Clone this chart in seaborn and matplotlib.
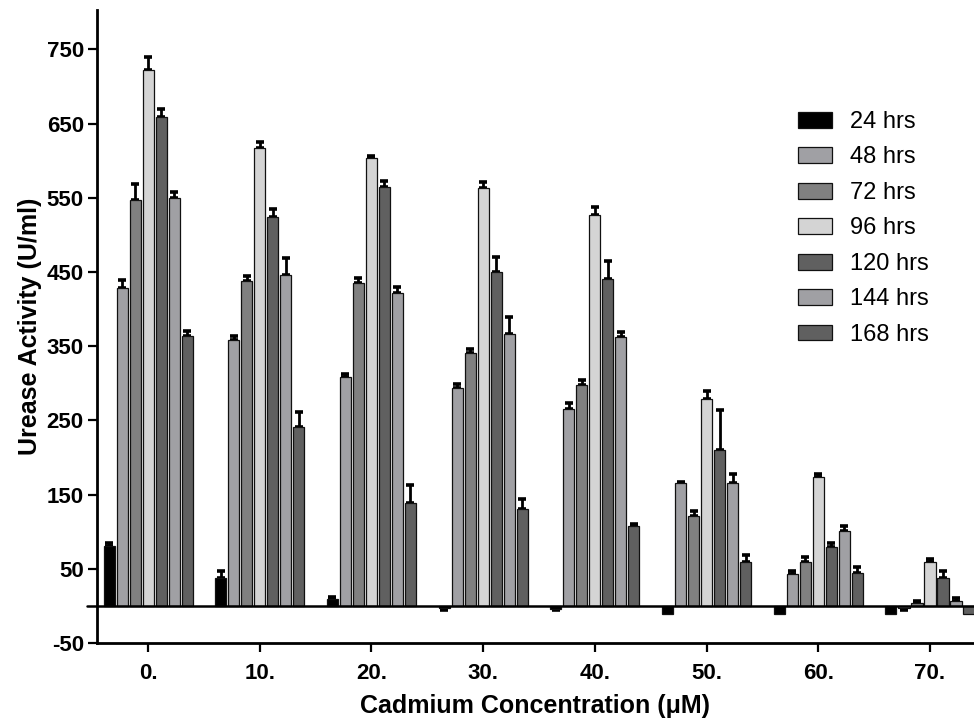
import numpy as np
import pandas as pd
import seaborn as sns
import matplotlib
matplotlib.use("Agg")
import matplotlib.pyplot as plt

# Cadmium concentrations (x categories)
concentrations = ["0.", "10.", "20.", "30.", "40.", "50.", "60.", "70."]
hours = ["24 hrs", "48 hrs", "72 hrs", "96 hrs", "120 hrs", "144 hrs", "168 hrs"]

# Urease activity (U/ml) per incubation time
act_24 = [81, 37, 9, -3, -4, -11, -11, -11]
act_48 = [429, 358, 309, 294, 266, 165, 43, -3]
act_72 = [547, 438, 435, 341, 297, 121, 59, 4]
act_96 = [722, 617, 603, 563, 527, 279, 174, 59]
act_120 = [659, 524, 565, 450, 440, 210, 80, 38]
act_144 = [550, 446, 421, 367, 362, 165, 101, 6]
act_168 = [364, 241, 138, 130, 108, 59, 45, -11]

# Standard errors
err_24 = [4, 10, 3, 2, 2, 0, 0, 0]
err_48 = [10, 6, 4, 5, 7, 2, 4, 2]
err_72 = [21, 6, 7, 5, 7, 7, 7, 2]
err_96 = [18, 8, 3, 8, 10, 11, 4, 4]
err_120 = [11, 11, 7, 20, 25, 54, 5, 9]
err_144 = [8, 23, 9, 22, 7, 13, 6, 5]
err_168 = [7, 20, 25, 14, 3, 9, 7, 0]

yticks = [-50, 50, 150, 250, 350, 450, 550, 650, 750]

series = [act_24, act_48, act_72, act_96, act_120, act_144, act_168]
errors = [err_24, err_48, err_72, err_96, err_120, err_144, err_168]
colors = ["#000000", "#a0a0a4", "#808080", "#d4d4d4", "#606060", "#a0a0a4", "#606060"]

rows = []
for h, vals, errs in zip(hours, series, errors):
    for c, v, e in zip(concentrations, vals, errs):
        rows.append({"conc": c, "time": h, "activity": v, "sem": e})
df = pd.DataFrame(rows)

sns.set_theme(style="ticks")
plt.rcParams["font.family"] = ["Liberation Sans", "DejaVu Sans"]
plt.rcParams.update({
    "text.color": "black",
    "axes.labelcolor": "black",
    "xtick.color": "black",
    "ytick.color": "black",
    "axes.edgecolor": "black",
})

fig = plt.figure(figsize=(9.74, 7.2), dpi=100)
ax = fig.add_axes([97 / 974, 77 / 720, 1 - 97 / 974, (643 - 10) / 720])

sns.barplot(
    data=df, x="conc", y="activity", hue="time",
    order=concentrations, hue_order=hours, palette=colors,
    width=0.815, gap=0.15, errorbar=None,
    edgecolor="#111111", linewidth=0.9, ax=ax, zorder=2,
)

# one-sided error bars in the direction of each bar
for cont, errs in zip(ax.containers, errors):
    for patch, e in zip(cont.patches, errs):
        if e <= 0:
            continue
        xc = patch.get_x() + patch.get_width() / 2
        h = patch.get_height()
        y = patch.get_y() + h
        if h >= 0:
            yerr = [[0], [e]]
        else:
            yerr = [[e], [0]]
        ax.errorbar(xc, y, yerr=yerr, fmt="none", ecolor="black",
                    elinewidth=2.0, capsize=2.6, capthick=2.6, zorder=1)

ax.axhline(0, xmin=-0.011, xmax=1, color="black", lw=1.8, zorder=5, clip_on=False)

ax.set_xlim(-0.457, 7.394)
ax.set_ylim(-50, 803)
ax.set_yticks(yticks)
ax.set_yticklabels([str(t) for t in yticks])

for side in ["top", "right"]:
    ax.spines[side].set_visible(False)
for side in ["left", "bottom"]:
    ax.spines[side].set_linewidth(2.0)
    ax.spines[side].set_color("black")

ax.tick_params(axis="both", direction="out", length=6.5, width=1.6, color="black",
               labelcolor="black", labelsize=16)
ax.tick_params(axis="x", pad=8)
ax.tick_params(axis="y", pad=3)
for lbl in ax.get_xticklabels() + ax.get_yticklabels():
    lbl.set_fontweight("bold")

ax.set_xlabel("Cadmium Concentration (μM)", fontsize=18, fontweight="bold",
              labelpad=7, color="black")
ax.set_ylabel("Urease Activity (U/ml)", fontsize=18, fontweight="bold",
              labelpad=3, color="black")

handles, labels = ax.get_legend_handles_labels()
leg = ax.legend(handles, labels, loc="upper left", bbox_to_anchor=(798 / 974, 1 - 111 / 720),
                bbox_transform=fig.transFigure, borderaxespad=0,
                frameon=False, fontsize=17, handlelength=1.44, handleheight=0.66,
                handletextpad=0.76, labelspacing=0.57, borderpad=0)
for txt in leg.get_texts():
    txt.set_color("black")

fig.savefig("out.png", dpi=100)
